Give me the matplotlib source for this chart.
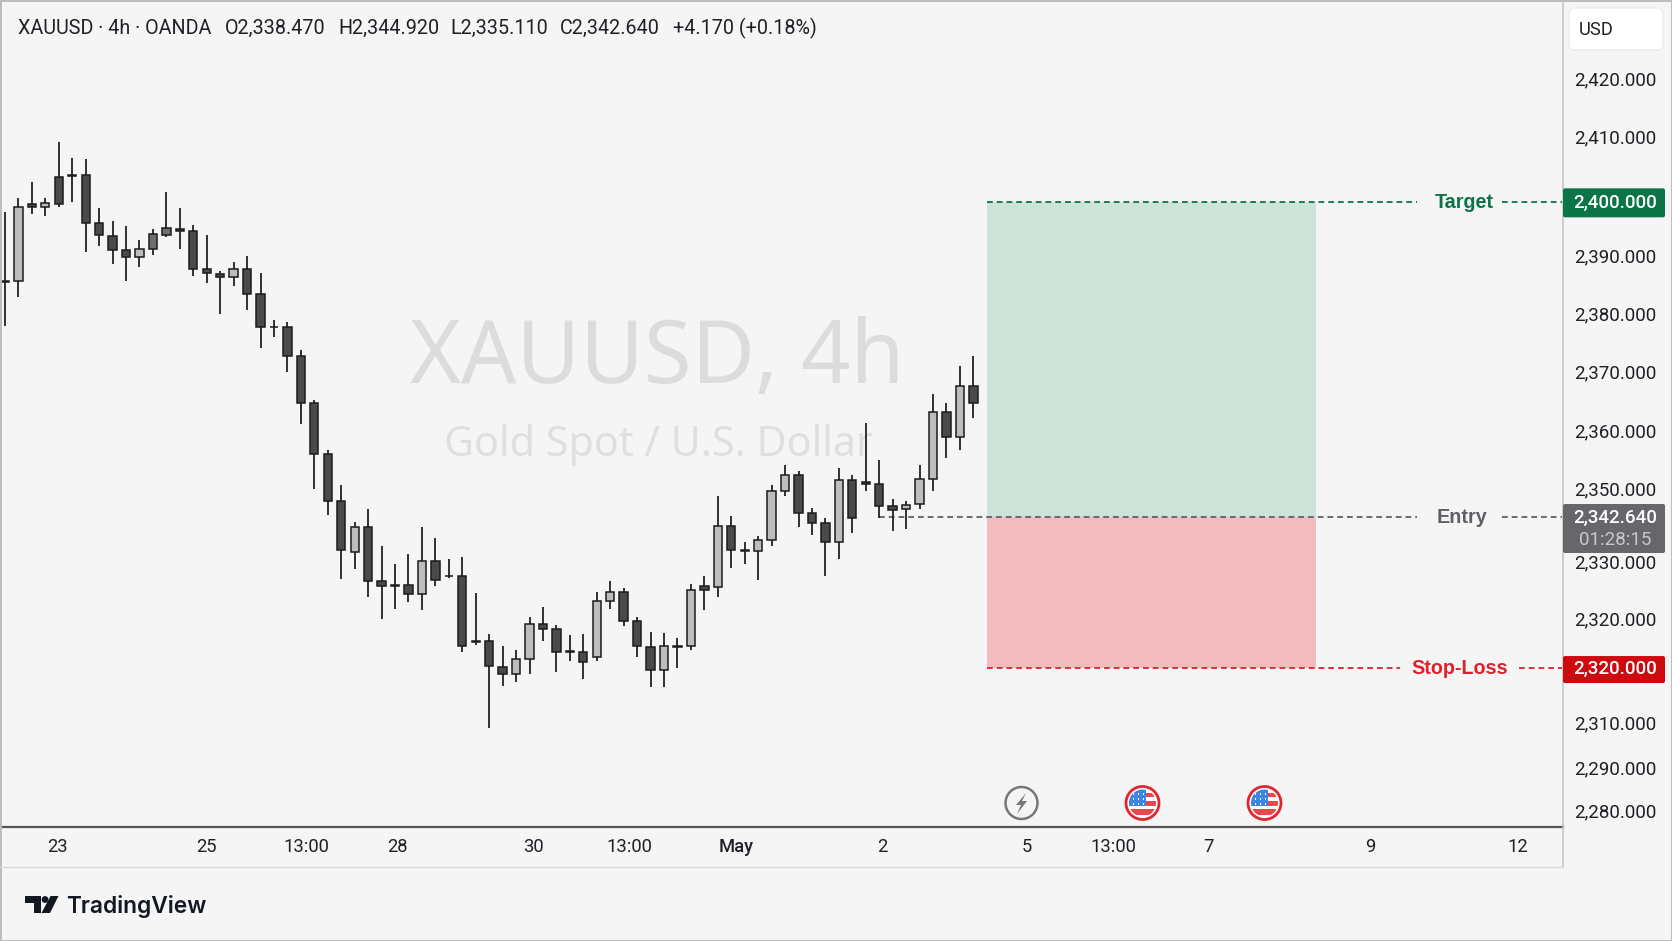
#!/usr/bin/env python3
"""XAUUSD 4h candles with target, entry and stop-loss zones."""
import matplotlib
matplotlib.use("Agg")
import matplotlib.pyplot as plt
from matplotlib.patches import Circle, FancyBboxPatch, Polygon, Rectangle
from matplotlib.transforms import blended_transform_factory

plt.rcParams["font.family"] = ["Roboto", "DejaVu Sans"]

# candle values, on its linear part of the price scale
OPENS = [
    2385.6, 2385.6, 2398.9, 2398.3, 2403.5, 2403.7, 2403.7, 2395.6, 2393.4, 2390.9,
    2389.7, 2393.7, 2394.7, 2394.6, 2394.3, 2387.8, 2386.9, 2386.4, 2387.8, 2383.5,
    2377.9, 2377.8, 2372.9, 2364.8, 2356.2, 2348.2, 2339.4, 2343.6, 2334.5, 2333.8,
    2333.7, 2332.2, 2337.8, 2335.4, 2335.4, 2324.3, 2324.3, 2319.8, 2318.6, 2321.2,
    2327.2, 2326.2, 2322.5, 2322.4, 2321.5, 2331.0, 2332.6, 2327.6, 2323.2, 2319.2,
    2323.4, 2323.4, 2333.6, 2333.5, 2343.9, 2339.8, 2339.5, 2341.4, 2349.9, 2352.6,
    2346.1, 2344.3, 2341.2, 2351.7, 2351.3, 2351.1, 2347.2, 2346.7, 2347.6, 2351.8,
    2363.3, 2359.1, 2367.8,
]
HIGHS = [
    2397.5, 2399.8, 2402.6, 2399.9, 2409.5, 2406.6, 2406.5, 2398.2, 2395.9, 2395.0,
    2392.7, 2394.5, 2400.8, 2398.2, 2395.2, 2393.5, 2387.4, 2389.0, 2390.0, 2387.1,
    2379.0, 2378.7, 2373.9, 2365.3, 2356.9, 2350.9, 2344.5, 2346.8, 2340.5, 2337.4,
    2339.1, 2343.6, 2341.8, 2338.3, 2338.5, 2332.4, 2325.4, 2323.4, 2322.7, 2328.3,
    2330.0, 2327.0, 2325.2, 2325.4, 2332.6, 2334.4, 2333.2, 2328.4, 2325.7, 2325.5,
    2324.8, 2334.0, 2335.3, 2348.9, 2345.6, 2341.2, 2342.1, 2350.9, 2354.2, 2353.3,
    2347.0, 2345.3, 2353.8, 2352.6, 2361.5, 2355.1, 2348.5, 2348.2, 2354.2, 2366.4,
    2364.9, 2371.2, 2372.8,
]
LOWS = [
    2378.0, 2382.9, 2397.1, 2396.8, 2398.3, 2399.2, 2390.6, 2391.7, 2388.6, 2385.6,
    2388.0, 2390.1, 2393.2, 2391.1, 2386.5, 2385.4, 2380.0, 2384.8, 2380.7, 2374.2,
    2376.1, 2370.1, 2361.3, 2350.1, 2345.7, 2334.8, 2336.5, 2331.8, 2328.0, 2329.7,
    2330.8, 2329.5, 2333.6, 2334.9, 2322.4, 2323.5, 2309.3, 2316.5, 2317.2, 2318.6,
    2324.3, 2319.0, 2320.8, 2317.7, 2320.8, 2329.6, 2326.7, 2321.5, 2316.3, 2316.3,
    2319.6, 2322.6, 2329.5, 2331.8, 2336.6, 2337.3, 2334.7, 2340.5, 2349.0, 2343.7,
    2342.3, 2335.4, 2338.2, 2342.7, 2349.9, 2345.3, 2343.0, 2343.3, 2346.7, 2349.8,
    2355.5, 2356.8, 2362.3,
]
CLOSES = [
    2385.5, 2398.3, 2398.3, 2399.0, 2398.9, 2403.6, 2395.6, 2393.5, 2390.9, 2389.7,
    2391.2, 2391.1, 2393.6, 2394.3, 2387.8, 2387.0, 2386.4, 2387.8, 2383.5, 2377.9,
    2377.8, 2372.9, 2364.8, 2356.2, 2348.2, 2339.8, 2343.6, 2334.5, 2333.6, 2333.6,
    2332.2, 2337.8, 2334.6, 2335.3, 2323.3, 2324.1, 2320.0, 2318.6, 2321.2, 2327.1,
    2326.2, 2322.4, 2322.3, 2320.6, 2331.1, 2332.6, 2327.6, 2323.3, 2319.2, 2323.4,
    2323.2, 2333.0, 2333.0, 2343.9, 2339.7, 2339.5, 2341.4, 2349.9, 2352.6, 2346.1,
    2344.3, 2341.2, 2351.7, 2345.3, 2351.1, 2347.2, 2346.6, 2347.5, 2351.8, 2363.3,
    2359.1, 2367.8, 2364.9,
]
MUTED_BARS = [11, 12]

# the price labels in the picture are not evenly spaced, so they sit where they were drawn
PRICE_TICKS = [2420.3, 2410.3, 2390.1, 2380.2, 2370.2, 2360.1, 2350.3, 2337.8, 2328.1, 2310.3, 2302.6, 2295.3]
PRICE_LABELS = ["2,420.000", "2,410.000", "2,390.000", "2,380.000", "2,370.000", "2,360.000",
                "2,350.000", "2,330.000", "2,320.000", "2,310.000", "2,290.000", "2,280.000"]
TIME_TICKS = [3.9, 15.0, 22.4, 29.2, 39.3, 46.4, 54.4, 65.2, 76.0, 82.4, 89.5, 101.5, 112.5]
TIME_LABELS = ["23", "25", "13:00", "28", "30", "13:00", "May", "2", "5", "13:00", "7", "9", "12"]

TARGET_LEVEL = 2399.2
ENTRY_LEVEL = 2345.4
STOP_LEVEL = 2319.6
TARGET_TAG = "2,400.000"
ENTRY_TAG = "2,342.640"
STOP_TAG = "2,320.000"
COUNTDOWN = "01:28:15"
ENTRY_START = 65.0
ZONE_START = 73.0
ZONE_END = 97.5

HEADER = [
    (18, "XAUUSD · 4h · OANDA"), (225, "O2,338.470"), (338, "H2,344.920"),
    (450, "L2,335.110"), (560, "C2,342.640"), (673, "+4.170 (+0.18%)"),
]

BG = "#f5f5f5"
GREEN = "#0b7548"
GREY = "#5f6066"
RED = "#d90f17"
INK = "#1e2026"

W, H = 1672, 941
PANE_RIGHT = 1563
PANE_BOTTOM = 827

fig = plt.figure(figsize=(W / 100, H / 100), dpi=100, facecolor=BG)
ax = fig.add_axes([0, 1 - PANE_BOTTOM / H, PANE_RIGHT / W, PANE_BOTTOM / H], zorder=1)
ax.set_facecolor(BG)
ax.set_xlim(-0.37, 115.84)
ax.set_ylim(2292.46, 2433.66)

# chrome layer in picture pixels: panels, price tags, icons, logo
chrome = fig.add_axes([0, 0, 1, 1], zorder=5)
chrome.set_xlim(0, W)
chrome.set_ylim(H, 0)
chrome.axis("off")

# watermark
ax.text(657, 360, "XAUUSD, 4h", transform=chrome.transData, fontsize=62.6, family="Noto Sans",
        color="#dcdcdd", ha="center", va="center", zorder=0)
ax.text(659, 445, "Gold Spot / U.S. Dollar", transform=chrome.transData, fontsize=29.7, family="Noto Sans",
        color="#dfdfe0", ha="center", va="center", zorder=0)

# zones
ax.add_patch(Rectangle((ZONE_START, ENTRY_LEVEL), ZONE_END - ZONE_START, TARGET_LEVEL - ENTRY_LEVEL,
                       facecolor="#cde2d8", edgecolor="none", zorder=1))
ax.add_patch(Rectangle((ZONE_START, STOP_LEVEL), ZONE_END - ZONE_START, ENTRY_LEVEL - STOP_LEVEL,
                       facecolor="#f2bcbe", edgecolor="none", zorder=1))

# candles
xs = list(range(len(OPENS)))
ax.vlines(xs, LOWS, HIGHS, color="#222222", lw=1.3, zorder=3)
fills = []
for i in xs:
    if i in MUTED_BARS:
        fills.append("#6e6e70")
    elif CLOSES[i] >= OPENS[i]:
        fills.append("#bdbdbd")
    else:
        fills.append("#4a4a4a")
bottoms = [min(o, c) for o, c in zip(OPENS, CLOSES)]
heights = [abs(c - o) for o, c in zip(OPENS, CLOSES)]
ax.bar(xs, heights, bottom=bottoms, width=0.62, color=fills, edgecolor="#1c1c1c", lw=1.1, zorder=4)


# dashed levels run to a gap around the label, then on to the price scale
def level(price, start, gap_from, gap_to, color, label, label_x):
    y = 941 - ax.transData.transform((0, price))[1]
    trans = blended_transform_factory(chrome.transData, ax.transData)
    x0 = ax.transData.transform((start, price))[0]
    ax.plot([x0, gap_from], [price, price], transform=trans, color=color, lw=1.3,
            ls=(0, (3.2, 2.2)), zorder=2.5)
    ax.plot([gap_to, PANE_RIGHT - 1], [price, price], transform=trans, color=color, lw=1.3,
            ls=(0, (3.2, 2.2)), zorder=2.5)
    chrome.text(label_x, y + 0.5, label, color=color, fontsize=14.2, fontweight="bold",
                family="Liberation Sans", ha="center", va="center")
    return y


target_y = level(TARGET_LEVEL, ZONE_START, 1417, 1502, GREEN, "Target", 1464)
entry_y = level(ENTRY_LEVEL, ENTRY_START, 1417, 1502, GREY, "Entry", 1462)
stop_y = level(STOP_LEVEL, ZONE_START, 1400, 1519, "#e0202a", "Stop-Loss", 1460)

# axes
ax.yaxis.tick_right()
ax.set_yticks(PRICE_TICKS, labels=PRICE_LABELS)
ax.set_xticks(TIME_TICKS, labels=TIME_LABELS)
ax.tick_params(axis="y", length=0, pad=8.2, labelsize=13.5, labelcolor=INK)
ax.tick_params(axis="x", length=0, pad=7.6, labelsize=13.2, labelcolor=INK)
for lab in ax.get_xticklabels():
    if lab.get_text() == "May":
        lab.set_fontweight("medium")
for side in ["top", "left"]:
    ax.spines[side].set_visible(False)
ax.spines["right"].set_color("#c6c6c6")
ax.spines["right"].set_linewidth(1.2)
ax.spines["bottom"].set_color("#555558")
ax.spines["bottom"].set_linewidth(1.6)

# frame and footer lines
chrome.plot([PANE_RIGHT, PANE_RIGHT], [PANE_BOTTOM, 867], color="#c6c6c6", lw=1.2)
chrome.plot([0, PANE_RIGHT], [867, 867], color="#dadada", lw=1.0)
chrome.add_patch(Rectangle((0.5, 0.5), W - 1, H - 1, fill=False, edgecolor="#bcbcbc", lw=1.4))

# header
for x, txt in HEADER:
    chrome.text(x, 28, txt, fontsize=14.2, color=INK, ha="left", va="center")

# USD box
chrome.add_patch(FancyBboxPatch((1572, 11), 88, 36, boxstyle="round,pad=3,rounding_size=6",
                                facecolor="white", edgecolor="#ececec", lw=1))
chrome.text(1579, 30, "USD", fontsize=13.2, color=INK, ha="left", va="center")


def tag(y0, y1, color):
    chrome.add_patch(FancyBboxPatch((1564, y0 + 1), 100, y1 - y0 - 2, boxstyle="round,pad=1,rounding_size=2",
                                    facecolor=color, edgecolor="none"))


tag(target_y - 13.5, target_y + 15.5, GREEN)
chrome.text(1615, target_y + 1, TARGET_TAG, color="white", fontsize=13.5, fontweight="medium",
            ha="center", va="center")
tag(504, 553, "#66676b")
chrome.text(1615, entry_y + 1, ENTRY_TAG, color="white", fontsize=13.5, fontweight="medium",
            ha="center", va="center")
chrome.text(1615, 540, COUNTDOWN, color="#c9c9c9", fontsize=13.5, ha="center", va="center")
tag(stop_y - 12, stop_y + 15, "#cc0a0f")
chrome.text(1615, stop_y + 1, STOP_TAG, color="white", fontsize=13.5, fontweight="medium",
            ha="center", va="center")

# event icons
chrome.add_patch(Circle((1021.5, 803), 16, facecolor=BG, edgecolor="#77777c", lw=1.8))
chrome.add_patch(Polygon([(1026, 793), (1016, 805), (1021, 805), (1017, 814), (1027, 801), (1022, 801)],
                         facecolor="#77777c", edgecolor="none"))
for cx in [1142.5, 1264.5]:
    chrome.add_patch(Circle((cx, 803), 16.5, facecolor="white", edgecolor="#e0262e", lw=2.0))
    clip = Circle((cx, 803), 13.5, transform=chrome.transData)
    for y0, hgt in [(793, 3.5), (801, 4.5), (809, 5.5)]:
        stripe = chrome.add_patch(Rectangle((cx - 15, y0), 30, hgt, facecolor="#e8474c", edgecolor="none"))
        stripe.set_clip_path(clip)
    canton = chrome.add_patch(Rectangle((cx - 14, 789), 17, 17, facecolor="#3f86e0", edgecolor="none"))
    canton.set_clip_path(clip)
    for dx in [-9, -4, 1]:
        for dy in [794, 799, 804]:
            chrome.add_patch(Rectangle((cx + dx - 0.7, dy - 0.7), 1.4, 1.4, facecolor="white", edgecolor="none"))

# logo
chrome.add_patch(Polygon([(25, 896), (41, 896), (41, 913), (33.5, 913), (33.5, 903), (25, 903)],
                         facecolor="#131722", edgecolor="none"))
chrome.add_patch(Circle((45, 899.5), 3.4, facecolor="#131722", edgecolor="none"))
chrome.add_patch(Polygon([(50.5, 896), (58.5, 896), (50, 913), (41.5, 913)], facecolor="#131722", edgecolor="none"))
chrome.text(66, 906, "TradingView", fontsize=16.4, family="Inter", fontweight="semibold", color="#131722",
            ha="left", va="center")

fig.savefig("out.png", dpi=100, facecolor=BG)
